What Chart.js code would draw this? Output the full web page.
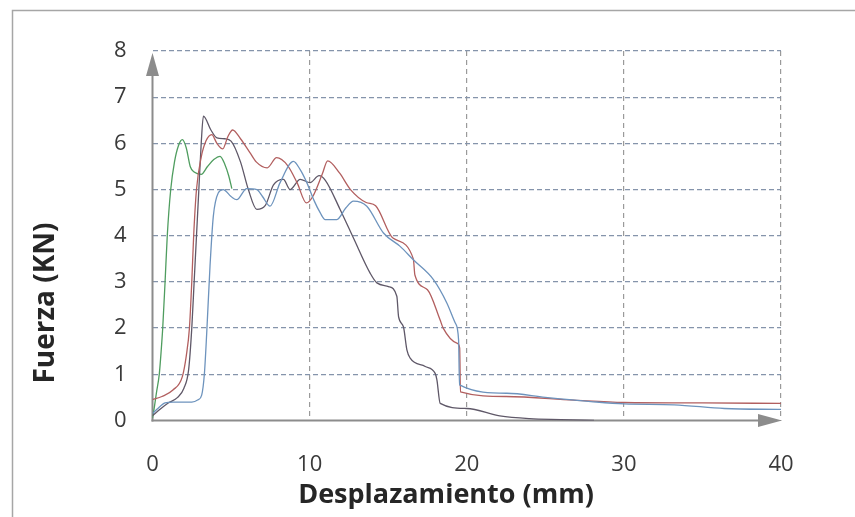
<!DOCTYPE html>
<html>
<head>
<meta charset="utf-8">
<script src="https://cdn.jsdelivr.net/npm/chart.js@4/dist/chart.umd.min.js"></script>
<style>
  html, body { margin: 0; padding: 0; background: #ffffff; }
  #wrap { position: relative; width: 855px; height: 517px; }
</style>
</head>
<body>
<div id="wrap"><canvas id="c" width="855" height="517"></canvas></div>
<script>
// ---- data ----
const xTickValues = [0, 10, 20, 30, 40];
const yTickValues = [0, 1, 2, 3, 4, 5, 6, 7, 8];
const xTitle = 'Desplazamiento (mm)';
const yTitle = 'Fuerza (KN)';

const greenX = [0, 0.1, 0.25, 0.43, 0.55, 0.65, 0.8, 0.94, 1.16, 1.4, 1.65, 1.9, 2.15, 2.4, 2.65, 3.1, 3.5, 3.9, 4.3, 4.6, 4.85, 5.05];
const greenY = [0.05, 0.25, 0.6, 1.0, 1.5, 2.0, 3.0, 4.0, 5.0, 5.6, 5.95, 6.08, 5.9, 5.5, 5.38, 5.33, 5.5, 5.65, 5.72, 5.55, 5.3, 5.02];

const redX = [0, 0.6, 1.3, 1.9, 2.15, 2.35, 2.5, 2.62, 2.8, 3.1, 3.4, 3.77, 4.1, 4.47, 4.8, 5.1, 5.6, 6.2, 6.6, 7.3, 7.9, 8.6, 9.2, 9.8, 10.2, 10.8, 11.15, 11.9, 12.6, 13.6, 14.2, 15.3, 16.6, 16.7, 17.5, 18.3, 18.5, 19.4, 19.55, 19.6, 22.5, 26.8, 30, 35, 40];
const redY = [0.45, 0.52, 0.66, 0.95, 1.4, 2.0, 3.0, 4.0, 5.0, 5.7, 6.05, 6.19, 6.0, 5.88, 6.15, 6.29, 6.1, 5.8, 5.6, 5.47, 5.69, 5.52, 5.15, 4.71, 4.85, 5.33, 5.62, 5.36, 5.0, 4.72, 4.65, 3.95, 3.5, 3.15, 2.83, 2.18, 2.0, 1.67, 1.57, 0.62, 0.52, 0.44, 0.39, 0.38, 0.37];

const darkX = [0, 0.5, 1, 1.6, 2.0, 2.3, 2.5, 2.65, 2.8, 2.95, 3.1, 3.24, 3.7, 4.1, 4.6, 5.0, 5.6, 6.1, 6.64, 7.17, 7.7, 8.33, 8.76, 9.4, 10.03, 10.6, 11.0, 11.94, 12.79, 13.85, 14.28, 15.02, 15.55, 15.66, 15.97, 16.19, 16.4, 17.36, 17.99, 18.1, 18.31, 20.0, 22.1, 24, 26, 28.1];
const darkY = [0.1, 0.25, 0.38, 0.5, 0.7, 1.1, 2.0, 3.0, 4.0, 5.0, 6.0, 6.59, 6.3, 6.12, 6.1, 6.05, 5.6, 5.0, 4.57, 4.65, 5.1, 5.22, 5.0, 5.22, 5.15, 5.3, 5.2, 4.57, 3.95, 3.19, 2.98, 2.9, 2.69, 2.25, 2.03, 1.53, 1.35, 1.17, 1.02, 0.88, 0.37, 0.26, 0.1, 0.04, 0.02, 0.0];

const blueX = [0, 0.3, 0.8, 1.3, 2.5, 2.9, 3.13, 3.3, 3.45, 3.66, 3.87, 4.19, 4.5, 5.0, 5.36, 6.0, 6.64, 7.0, 7.48, 8.12, 8.97, 9.4, 9.82, 10.3, 10.67, 10.99, 11.73, 12.3, 12.79, 13.64, 14.7, 15.76, 16.6, 17.88, 18.74, 19.27, 19.48, 19.54, 22.56, 25, 27.9, 30, 33.2, 36.4, 40];
const blueY = [0.15, 0.25, 0.38, 0.4, 0.4, 0.45, 0.55, 1.0, 1.89, 3.34, 4.42, 4.93, 5.0, 4.85, 4.78, 5.02, 5.0, 4.85, 4.64, 5.15, 5.61, 5.43, 5.15, 4.75, 4.5, 4.35, 4.35, 4.6, 4.75, 4.64, 4.06, 3.77, 3.48, 3.05, 2.54, 2.11, 1.75, 0.77, 0.59, 0.5, 0.41, 0.36, 0.34, 0.26, 0.24];

function pts(xs, ys) { return xs.map((x, i) => ({ x: x, y: ys[i] })); }
function ds(xs, ys, color) {
  return {
    data: pts(xs, ys), borderColor: color, borderWidth: 1.3,
    pointRadius: 0, showLine: true, fill: false,
    cubicInterpolationMode: 'monotone'
  };
}

const FONT = '"Open Sans", "Noto Sans", sans-serif';

const framePlugin = {
  id: 'frame',
  beforeDraw(chart) {
    const ctx = chart.ctx;
    ctx.save();
    ctx.fillStyle = '#ffffff';
    ctx.fillRect(0, 0, chart.width, chart.height);
    ctx.strokeStyle = '#a6a6a6';
    ctx.lineWidth = 1.5;
    ctx.strokeRect(12.5, 10.5, 900, 600);
    ctx.restore();
  },
  beforeDatasetsDraw(chart) {
    const ctx = chart.ctx;
    const xs = chart.scales.x, ys = chart.scales.y;
    const x0 = xs.getPixelForValue(0), y0 = ys.getPixelForValue(0);
    const yTop = ys.getPixelForValue(8);
    const xRight = xs.getPixelForValue(40);
    ctx.save();
    ctx.strokeStyle = '#8c8c8c';
    ctx.fillStyle = '#8c8c8c';
    ctx.lineWidth = 2;
    // y axis + arrow
    ctx.beginPath();
    ctx.moveTo(x0, y0 + 1);
    ctx.lineTo(x0, yTop + 22);
    ctx.stroke();
    ctx.beginPath();
    ctx.moveTo(x0, yTop + 2);
    ctx.lineTo(x0 - 6.5, yTop + 25);
    ctx.lineTo(x0 + 6.5, yTop + 25);
    ctx.closePath();
    ctx.fill();
    // x axis + arrow
    ctx.beginPath();
    ctx.moveTo(x0 - 1, y0);
    ctx.lineTo(xRight - 20, y0);
    ctx.stroke();
    ctx.beginPath();
    ctx.moveTo(xRight + 1, y0);
    ctx.lineTo(xRight - 23, y0 - 6.5);
    ctx.lineTo(xRight - 23, y0 + 6.5);
    ctx.closePath();
    ctx.fill();
    ctx.restore();
  },
  afterDraw(chart) {
    const ctx = chart.ctx;
    ctx.save();
    ctx.fillStyle = '#262626';
    ctx.textAlign = 'center';
    ctx.textBaseline = 'alphabetic';
    ctx.font = 'bold 27px ' + FONT;
    ctx.fillText(xTitle, 446, 503);
    ctx.font = 'bold 28px ' + FONT;
    ctx.translate(54, 303);
    ctx.rotate(-Math.PI / 2);
    ctx.fillText(yTitle, 0, 0);
    ctx.restore();
  }
};

new Chart(document.getElementById('c'), {
  type: 'scatter',
  data: {
    datasets: [
      ds(blueX, blueY, '#6d93bd'),
      ds(redX, redY, '#b25f5f'),
      ds(darkX, darkY, '#5f5868'),
      ds(greenX, greenY, '#4f9d5f')
    ]
  },
  options: {
    responsive: false,
    animation: false,
    events: [],
    layout: { padding: { left: 92.5, right: 74, top: 51, bottom: 36.5 } },
    plugins: { legend: { display: false }, tooltip: { enabled: false }, title: { display: false } },
    scales: {
      x: {
        type: 'linear', min: 0, max: 40,
        afterFit(s) { s.height = 60; },
        afterBuildTicks(s) { s.ticks = xTickValues.map(v => ({ value: v })); },
        ticks: { color: '#3a3a3a', font: { family: FONT, size: 22 }, padding: 31, maxRotation: 0 },
        grid: {
          drawTicks: false, lineWidth: 1.2,
          color: c => (c.tick && c.tick.value === 0) ? 'rgba(0,0,0,0)' : '#9a9a9a'
        },
        border: { display: false, dash: [5, 4] }
      },
      y: {
        type: 'linear', min: 0, max: 8,
        afterFit(s) { s.width = 60; },
        afterBuildTicks(s) { s.ticks = yTickValues.map(v => ({ value: v })); },
        ticks: { color: '#3a3a3a', font: { family: FONT, size: 22 }, padding: 26 },
        grid: {
          drawTicks: false, lineWidth: 1.3,
          color: c => (c.tick && c.tick.value === 0) ? 'rgba(0,0,0,0)' : '#8594ab'
        },
        border: { display: false, dash: [5, 3] }
      }
    }
  },
  plugins: [framePlugin]
});
</script>
</body>
</html>
